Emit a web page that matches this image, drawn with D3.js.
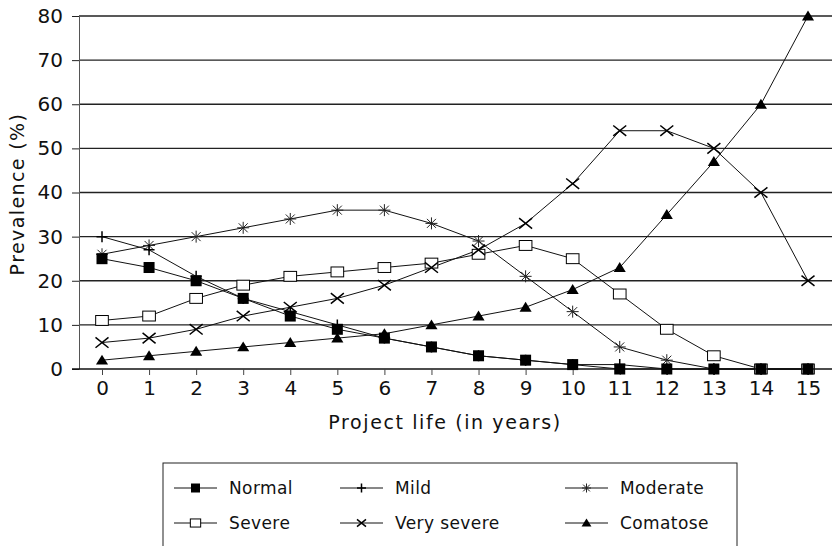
<!DOCTYPE html>
<html>
<head>
<meta charset="utf-8">
<script src="https://cdn.jsdelivr.net/npm/d3@7"></script>
<style>
  body { margin: 0; background: #fff; }
  svg text { font-family: "DejaVu Sans", sans-serif; fill: #111; }
</style>
</head>
<body>
<div id="chart"></div>
<script>
// chart data
const years = [0, 1, 2, 3, 4, 5, 6, 7, 8, 9, 10, 11, 12, 13, 14, 15];
const normal     = [25, 23, 20, 16, 12, 9, 7, 5, 3, 2, 1, 0, 0, 0, 0, 0];
const mild       = [30, 27, 21, 16, 13, 10, 7, 5, 3, 2, 1, 1, 0, 0, 0, 0];
const moderate   = [26, 28, 30, 32, 34, 36, 36, 33, 29, 21, 13, 5, 2, 0, 0, 0];
const severe     = [11, 12, 16, 19, 21, 22, 23, 24, 26, 28, 25, 17, 9, 3, 0, 0];
const verySevere = [6, 7, 9, 12, 14, 16, 19, 23, 27, 33, 42, 54, 54, 50, 40, 20];
const comatose   = [2, 3, 4, 5, 6, 7, 8, 10, 12, 14, 18, 23, 35, 47, 60, 80];
const seriesNames = ["Normal", "Mild", "Moderate", "Severe", "Very severe", "Comatose"];
const yTicks = [0, 10, 20, 30, 40, 50, 60, 70, 80];

const series = [
  { name: "Normal", values: normal, sym: "fsquare" },
  { name: "Mild", values: mild, sym: "plus" },
  { name: "Moderate", values: moderate, sym: "star" },
  { name: "Severe", values: severe, sym: "osquare" },
  { name: "Very severe", values: verySevere, sym: "cross" },
  { name: "Comatose", values: comatose, sym: "triangle" }
];

const width = 832, height = 546;
const svg = d3.select("#chart").append("svg")
  .attr("width", width).attr("height", height);

const x = d3.scaleLinear().domain([0, 15]).range([102, 808]);
const y = d3.scaleLinear().domain([0, 80]).range([369, 16]);
const axisX = 79;

// gridlines
svg.append("g").selectAll("line")
  .data(yTicks.filter(d => d > 0))
  .enter().append("line")
  .attr("x1", axisX).attr("x2", width)
  .attr("y1", d => y(d)).attr("y2", d => y(d))
  .attr("stroke", "#222").attr("stroke-width", 1.3);

// y axis
const yAxis = svg.append("g")
  .attr("transform", `translate(${axisX},0)`)
  .call(d3.axisLeft(y).tickValues(yTicks).tickSize(7).tickPadding(9).tickSizeOuter(0));
yAxis.select(".domain").attr("stroke", "#555");
yAxis.selectAll(".tick line").attr("stroke", "#222");
yAxis.selectAll("text").attr("font-size", 20).attr("font-family", "DejaVu Sans").attr("fill", "#111");

// x axis
svg.append("line")
  .attr("x1", 72).attr("x2", width)
  .attr("y1", y(0)).attr("y2", y(0))
  .attr("stroke", "#111").attr("stroke-width", 1.4);
const xAxis = svg.append("g")
  .attr("transform", `translate(0,${y(0)})`)
  .call(d3.axisBottom(x).tickValues(years).tickFormat(d3.format("d")).tickSize(6).tickPadding(6).tickSizeOuter(0));
xAxis.select(".domain").remove();
xAxis.selectAll(".tick line").attr("stroke", "#444");
xAxis.selectAll("text").attr("font-size", 20).attr("font-family", "DejaVu Sans").attr("fill", "#111");

// axis titles
svg.append("text")
  .attr("x", 445).attr("y", 429)
  .attr("text-anchor", "middle").attr("font-size", 19).attr("letter-spacing", 1.6)
  .text("Project life (in years)");
svg.append("text")
  .attr("transform", "translate(24,194) rotate(-90)")
  .attr("text-anchor", "middle").attr("font-size", 19).attr("letter-spacing", 1.4)
  .text("Prevalence (%)");

// marker drawing
function drawMarker(g, sym, s) {
  const h = s / 2;
  if (sym === "fsquare") {
    g.append("rect").attr("x", -h).attr("y", -h).attr("width", s).attr("height", s).attr("fill", "#000");
  } else if (sym === "osquare") {
    g.append("rect").attr("x", -h * 1.15).attr("y", -h * 0.9).attr("width", s * 1.15).attr("height", s * 0.9)
      .attr("fill", "#fff").attr("stroke", "#000").attr("stroke-width", 1);
  } else if (sym === "plus") {
    g.append("path").attr("d", `M${-h},0H${h}M0,${-h}V${h}`).attr("stroke", "#000").attr("stroke-width", 1.5);
  } else if (sym === "cross") {
    g.append("path").attr("d", `M${-h},${-h * 0.8}L${h},${h * 0.8}M${-h},${h * 0.8}L${h},${-h * 0.8}`)
      .attr("stroke", "#000").attr("stroke-width", 1.5);
  } else if (sym === "star") {
    const a = h * 0.75;
    g.append("path").attr("d", `M${-h},0H${h}M0,${-h}V${h}M${-a},${-a}L${a},${a}M${-a},${a}L${a},${-a}`)
      .attr("stroke", "#222").attr("stroke-width", 1);
  } else if (sym === "triangle") {
    g.append("path").attr("d", `M0,${-h}L${h * 1.1},${h * 0.8}L${-h * 1.1},${h * 0.8}Z`).attr("fill", "#000");
  }
}

const line = d3.line().x((d, i) => x(years[i])).y(d => y(d));

series.forEach(s => {
  svg.append("path")
    .datum(s.values)
    .attr("d", line)
    .attr("fill", "none").attr("stroke", "#111").attr("stroke-width", 1);
});
// markers: open squares underneath, filled squares on top
const markerOrder = ["Severe", "Moderate", "Very severe", "Comatose", "Normal", "Mild"];
markerOrder.map(n => series.find(s => s.name === n)).forEach(s => {
  const size = s.sym === "cross" ? 13 : s.sym === "star" ? 12 : 11;
  s.values.forEach((v, i) => {
    const g = svg.append("g").attr("transform", `translate(${x(years[i])},${y(v)})`);
    drawMarker(g, s.sym, size);
  });
});

// legend
const legend = svg.append("g");
legend.append("rect")
  .attr("x", 163).attr("y", 463).attr("width", 574).attr("height", 100)
  .attr("fill", "none").attr("stroke", "#222").attr("stroke-width", 1);
const colX = [174, 340, 565];
const rowY = [488, 523];
series.forEach((s, i) => {
  const cx = colX[i % 3], cy = rowY[Math.floor(i / 3)];
  const item = legend.append("g").attr("transform", `translate(${cx},${cy})`);
  item.append("line").attr("x1", 0).attr("x2", 43).attr("y1", 0).attr("y2", 0)
    .attr("stroke", "#111").attr("stroke-width", 1);
  drawMarker(item.append("g").attr("transform", "translate(21.5,0)"), s.sym, 9);
  item.append("text").attr("x", 55).attr("y", 0).attr("dy", "0.35em")
    .attr("font-size", 17).attr("letter-spacing", 0.4)
    .text(seriesNames[i]);
});
</script>
</body>
</html>
